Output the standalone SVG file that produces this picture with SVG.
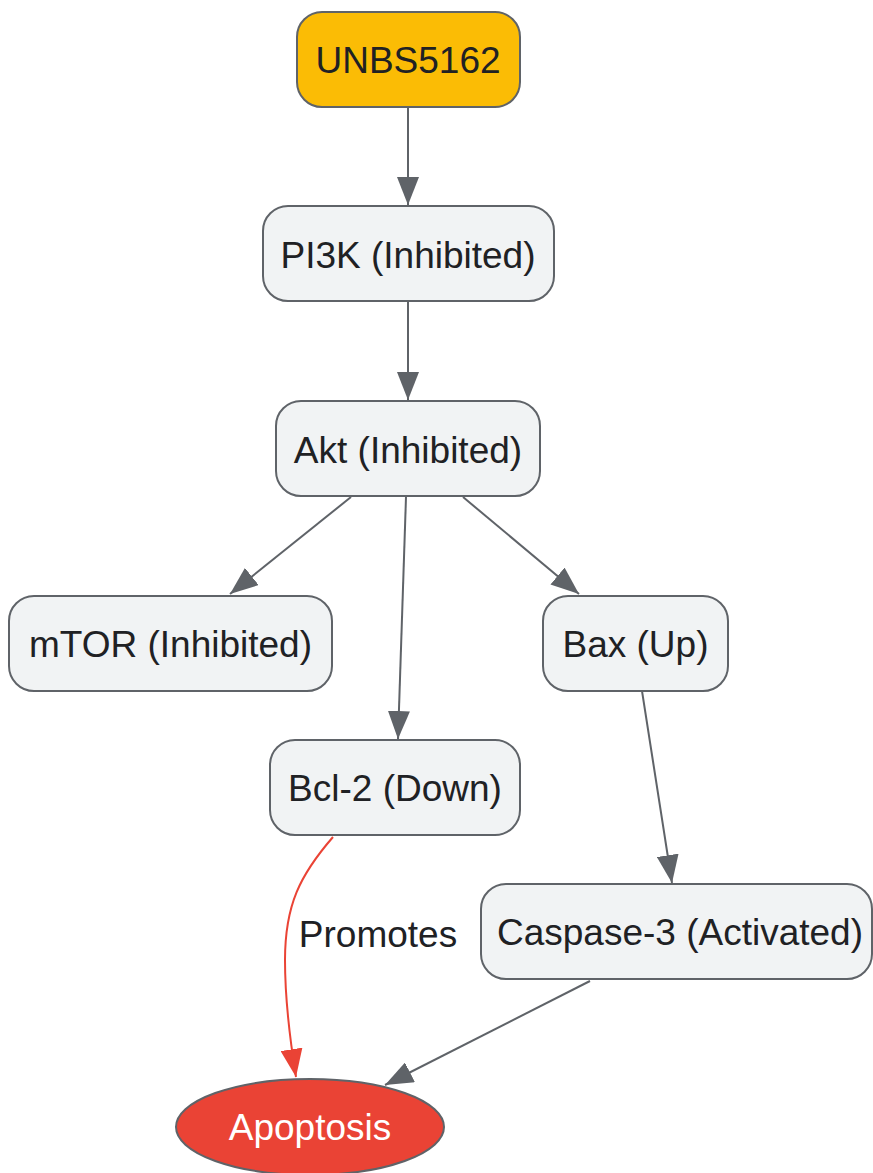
<svg xmlns="http://www.w3.org/2000/svg" width="873" height="1173" viewBox="0 0 873 1173">
<style>
.n{fill:#f1f3f4;stroke:#5f6368;stroke-width:2}
.t{font-family:"Liberation Sans",Arial,sans-serif;font-size:37px;fill:#202124;text-anchor:middle;dominant-baseline:central}
.e{fill:none;stroke:#5f6368;stroke-width:2}
.r{fill:none;stroke:#ea4335;stroke-width:2}
</style>
<defs>
<marker id="ag" viewBox="0 0 28 22" refX="28" refY="11" markerWidth="28" markerHeight="22" markerUnits="userSpaceOnUse" orient="auto"><path d="M0,0 L28,11 L0,22 z" fill="#5f6368"/></marker>
<marker id="ar" viewBox="0 0 28 22" refX="28" refY="11" markerWidth="28" markerHeight="22" markerUnits="userSpaceOnUse" orient="auto"><path d="M0,0 L28,11 L0,22 z" fill="#ea4335"/></marker>
</defs>
<rect width="873" height="1173" fill="#ffffff"/>
<g id="connectors">
<line class="e" x1="408" y1="107" x2="408" y2="205" marker-end="url(#ag)"/>
<line class="e" x1="408" y1="301" x2="408" y2="400" marker-end="url(#ag)"/>
<line class="e" x1="351" y1="497" x2="230" y2="594" marker-end="url(#ag)"/>
<line class="e" x1="406" y1="497" x2="398" y2="739" marker-end="url(#ag)"/>
<line class="e" x1="463" y1="497" x2="579" y2="594" marker-end="url(#ag)"/>
<line class="e" x1="642" y1="691" x2="672" y2="883" marker-end="url(#ag)"/>
<path class="r" d="M333,837 C300,875 285,905 285,960 C285,1000 290,1040 296,1077" marker-end="url(#ar)"/>
<line class="e" x1="590" y1="981" x2="385" y2="1085" marker-end="url(#ag)"/>
<text class="t" x="378" y="934">Promotes</text>
</g>
<g id="unbs"><rect x="297" y="12" width="223" height="95" rx="25" fill="#fbbc05" stroke="#5f6368" stroke-width="2"/><text class="t" x="408" y="60">UNBS5162</text></g>
<g id="pi3k"><rect class="n" x="263" y="206" width="291" height="95" rx="25"/><text class="t" x="408" y="255">PI3K (Inhibited)</text></g>
<g id="akt"><rect class="n" x="276" y="401" width="264" height="95" rx="25"/><text class="t" x="408" y="450">Akt (Inhibited)</text></g>
<g id="mtor"><rect class="n" x="9" y="596" width="323" height="95" rx="25"/><text class="t" x="170.5" y="644">mTOR (Inhibited)</text></g>
<g id="bax"><rect class="n" x="543" y="596" width="185" height="95" rx="25"/><text class="t" x="635.5" y="644">Bax (Up)</text></g>
<g id="bcl2"><rect class="n" x="270" y="740" width="250" height="95" rx="25"/><text class="t" x="395" y="788">Bcl-2 (Down)</text></g>
<g id="casp3"><rect class="n" x="481" y="884" width="391" height="95" rx="25"/><text class="t" x="680" y="932">Caspase-3 (Activated)</text></g>
<g id="apoptosis"><ellipse cx="310" cy="1127" rx="134" ry="48" fill="#ea4335" stroke="#5f6368" stroke-width="2"/><text class="t" x="310" y="1127" style="fill:#ffffff">Apoptosis</text></g>
</svg>
